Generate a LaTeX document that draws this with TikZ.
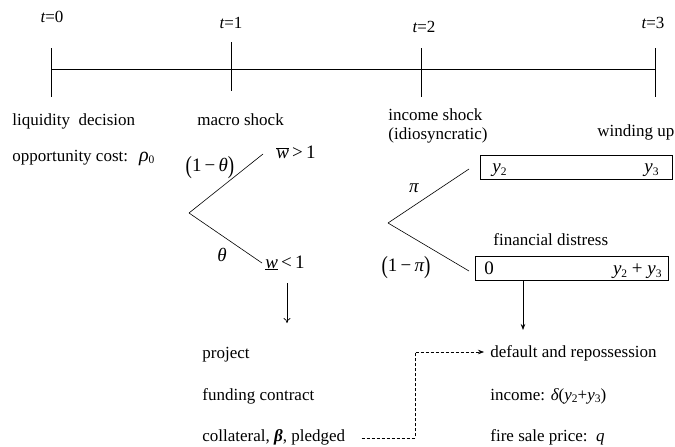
\documentclass[tikz,border=0pt]{standalone}
\usepackage{fontspec}
\setmainfont{Liberation Serif}
\usetikzlibrary{arrows.meta}
\newcommand\subs[1]{\raisebox{-0.35ex}{\fontsize{11.5}{11.5}\selectfont #1}}
\newcommand\bigpar[1]{\raisebox{-0.15em}{\scalebox{1}[1.3]{#1}}}
\begin{document}
\begin{tikzpicture}[x=1pt,y=-1pt,line width=0.8pt,
  every node/.style={inner sep=0pt,font=\fontsize{17}{20}\selectfont},
  lbl/.style={anchor=base west},
  mth/.style={font=\fontsize{19}{22}\selectfont},
  tick/.style={line width=0.8pt},
  branch/.style={line width=0.6pt},
  outbox/.style={draw,line width=0.8pt,anchor=north west,minimum height=24pt}]
\useasboundingbox (0,0) rectangle (675,447);
% timeline
\coordinate (T0) at (51,69);
\coordinate (T3) at (655,69);
\draw (T0) -- (T3);
\coordinate (a0) at (51,48); \coordinate (b0) at (51,97);
\coordinate (a1) at (231,42); \coordinate (b1) at (231,91);
\coordinate (a2) at (421,48); \coordinate (b2) at (421,97);
\coordinate (a3) at (655,48); \coordinate (b3) at (655,97);
\draw[tick] (a0) -- (b0);
\draw[tick] (a1) -- (b1);
\draw[tick] (a2) -- (b2);
\draw[tick] (a3) -- (b3);
\node[anchor=base] (t0) at (52,23) {{\itshape t}=0};
\node[anchor=base] (t1) at (231,28) {{\itshape t}=1};
\node[anchor=base] (t2) at (424,32) {{\itshape t}=2};
\node[anchor=base] (t3) at (653,28) {{\itshape t}=3};
% stage labels
\node[lbl] (liq) at (12,125) {liquidity\ \ decision};
\node[lbl] (opp) at (12,161) {opportunity cost:\hspace{11pt}{\itshape\fontsize{20}{20}\selectfont ρ}\subs{0}};
\node[lbl] (mac) at (197,125) {macro shock};
\node[lbl] (inc) at (388,120) {income shock};
\node[lbl] (idi) at (388,139) {(idiosyncratic)};
\node[lbl] (win) at (597,136) {winding up};
% macro tree
\coordinate (M) at (189,213);
\coordinate (Mu) at (263,154);
\coordinate (Md) at (262,263);
\draw[branch] (M) -- (Mu);
\draw[branch] (M) -- (Md);
\node[lbl,mth] (whi) at (276,158) {$\overline{\mbox{\itshape w}}$\,>\,1};
\node[lbl,mth] (wlo) at (265,268) {$\underline{\mbox{\itshape w}}$\,<\,1};
\node[mth] (pth) at (210,168) {\bigpar{(}1\,−\,{\itshape θ}\bigpar{)}};
\node[mth] (th) at (222,255) {\itshape θ};
\coordinate (Ar0) at (287,283);
\coordinate (Ar1) at (287,323);
\draw[line width=0.7pt,-{To[length=5pt,width=7pt]}] (Ar0) -- (Ar1);
\node[lbl] (proj) at (202,358) {project};
\node[lbl] (fund) at (202,400) {funding contract};
\node[lbl] (coll) at (202,441) {collateral, {\bfseries\itshape β}, pledged};
% income tree
\coordinate (I) at (388,223);
\coordinate (Iu) at (469,169);
\coordinate (Id) at (469,271);
\draw[branch] (I) -- (Iu);
\draw[branch] (I) -- (Id);
\node[mth] (pi) at (414,188) {\itshape π};
\node[mth] (ppi) at (406,268) {\bigpar{(}1\,−\,{\itshape π}\bigpar{)}};
% boxes
\node[outbox,minimum width=192pt] (B1) at (480,155) {};
\node[lbl,mth] (y2) at (492,172) {{\itshape y}\subs{2}};
\node[lbl,mth] (y3) at (644,172) {{\itshape y}\subs{3}};
\node[lbl] (fd) at (493,245) {financial distress};
\node[outbox,minimum width=193pt] (B2) at (475,256) {};
\node[lbl,mth] (zero) at (484,274) {0};
\node[anchor=base east,mth] (ysum) at (662,274) {{\itshape y}\subs{2} + {\itshape y}\subs{3}};
\coordinate (D1) at (523,330);
\draw[line width=0.7pt,-{Stealth[length=6pt,width=4.5pt]}] (B2.south -| D1) -- (D1);
% default outcomes
\node[lbl] (def) at (490,357) {default and repossession};
\node[lbl] (incd) at (490,400) {income: {\itshape δ}({\itshape y}\subs{2}+{\itshape y}\subs{3})};
\node[lbl] (fire) at (490,441) {fire sale price:\ \ {\itshape q}};
% dashed link
\coordinate (c1) at (415,438);
\coordinate (c2) at (415,352);
\coordinate (c3) at (484,352);
\draw[line width=0.6pt,dash pattern=on 3pt off 2pt,-{Stealth[length=6pt,width=4.5pt]}] (coll.east |- c1) ++(16,0) -- (c1) -- (c2) -- (c3);
\end{tikzpicture}
\end{document}
